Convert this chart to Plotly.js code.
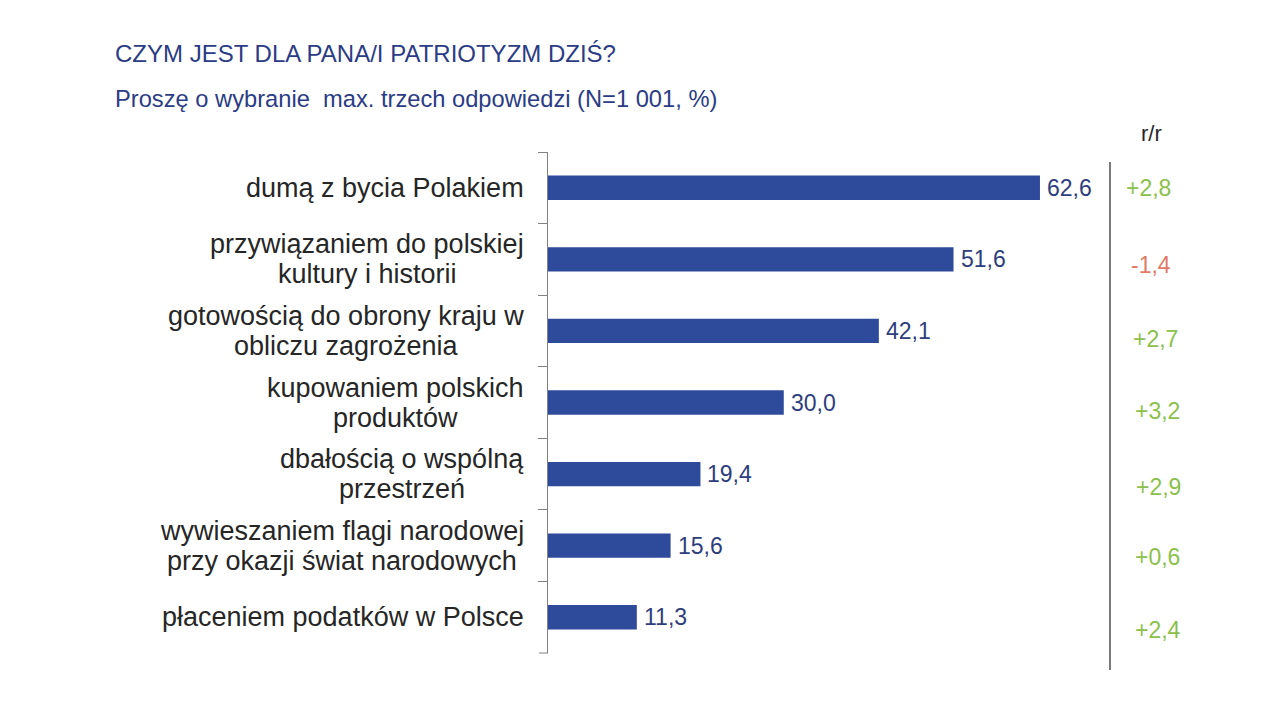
<!DOCTYPE html>
<html>
<head>
<meta charset="utf-8">
<script src="https://cdn.plot.ly/plotly-3.0.1.min.js"></script>
<style>html,body{margin:0;padding:0;background:#fff;}#chart{width:1280px;height:720px;}</style>
</head>
<body>
<div id="chart"></div>
<script>
// ---- data ----
const categories = [
  "dumą z bycia Polakiem",
  "przywiązaniem do polskiej<br>kultury i historii",
  "gotowością do obrony kraju w<br>obliczu zagrożenia",
  "kupowaniem polskich<br>produktów",
  "dbałością o wspólną<br>przestrzeń",
  "wywieszaniem flagi narodowej<br>przy okazji świat narodowych",
  "płaceniem podatków w Polsce"
];
const values = [62.6, 51.6, 42.1, 30.0, 19.4, 15.6, 11.3];
const changeLabels = ["+2,8", "-1,4", "+2,7", "+3,2", "+2,9", "+0,6", "+2,4"];
const titleText = "CZYM JEST DLA PANA/I PATRIOTYZM DZIŚ?";
const subtitleText = "Proszę o wybranie  max. trzech odpowiedzi (N=1 001, %)";
const rrHeader = "r/r";

// ---- layout constants (pixels) ----
const L = 548, R = 180, T = 152, B = 67;
const W = 1280 - L - R, H = 720 - T - B;
const px2x = p => (p - L) / W;
const py2y = p => (720 - B - p) / H;
const FONT = "'Liberation Sans', Arial, sans-serif";
const catFontSize = 27;
const rrX = [1148, 1151, 1155, 1157, 1158, 1157, 1158];
const rrShift = [0, -6, -8, -8, -13, -11, -13];

const ids = categories.map((c, i) => "c" + i);

const ctx = document.createElement("canvas").getContext("2d");
ctx.font = catFontSize + "px 'Liberation Sans'";

const annotations = [];
// category labels: lines centered on each other, block right-aligned
categories.forEach((c, i) => {
  const lines = c.split("<br>");
  const maxW = Math.max(...lines.map(l => ctx.measureText(l).width));
  const n = lines.length;
  lines.forEach((line, k) => {
    annotations.push({
      xref: "paper", yref: "y", x: 0, y: ids[i],
      xanchor: "center", yanchor: "middle",
      xshift: -24 - maxW / 2,
      yshift: -((k - (n - 1) / 2) * 30),
      text: line, showarrow: false,
      font: {family: FONT, size: catFontSize, color: "#262626"}
    });
  });
});
// value labels
values.forEach((v, i) => {
  annotations.push({
    xref: "x", yref: "y", x: v, y: ids[i],
    xanchor: "left", yanchor: "middle", xshift: 5,
    text: v.toFixed(1).replace(".", ","), showarrow: false,
    font: {family: FONT, size: 23, color: "#2E3D7C"}
  });
});
// r/r values
changeLabels.forEach((t, i) => {
  annotations.push({
    xref: "paper", yref: "y", x: px2x(rrX[i]), y: ids[i],
    xanchor: "center", yanchor: "middle", yshift: rrShift[i],
    text: t, showarrow: false,
    font: {family: FONT, size: 23, color: t.startsWith("-") ? "#E27A66" : "#8CBF4B"}
  });
});
// header and titles
annotations.push({
  xref: "paper", yref: "paper", x: px2x(1151), y: py2y(133),
  xanchor: "center", yanchor: "middle", text: rrHeader, showarrow: false,
  font: {family: FONT, size: 22, color: "#262626"}
});
annotations.push({
  xref: "paper", yref: "paper", x: px2x(113), y: py2y(54),
  xanchor: "left", yanchor: "middle", text: titleText, showarrow: false,
  font: {family: FONT, size: 24, color: "#2B3C85"}
});
annotations.push({
  xref: "paper", yref: "paper", x: px2x(113), y: py2y(99),
  xanchor: "left", yanchor: "middle", text: subtitleText, showarrow: false,
  font: {family: FONT, size: 23.7, color: "#2B3C85"}
});

const trace = {
  type: "bar", orientation: "h",
  x: values, y: ids,
  width: 0.34,
  marker: {color: "#2E4A9B"},
  hoverinfo: "skip"
};

const layout = {
  width: 1280, height: 720,
  margin: {l: L, r: R, t: T, b: B, pad: 0},
  paper_bgcolor: "#ffffff", plot_bgcolor: "#ffffff",
  showlegend: false,
  font: {family: FONT},
  xaxis: {range: [0, W / 7.859], visible: false, fixedrange: true},
  yaxis: {
    type: "category", autorange: "reversed",
    showticklabels: false, tickson: "boundaries",
    ticks: "outside", ticklen: 9, tickcolor: "#808080", tickwidth: 1,
    showline: true, linecolor: "#808080", linewidth: 1,
    showgrid: false, zeroline: false
  },
  shapes: [{
    type: "line", xref: "paper", yref: "paper",
    x0: px2x(1110), x1: px2x(1110), y0: py2y(162), y1: py2y(670),
    line: {color: "#333333", width: 1.3}
  }, {
    type: "line", xref: "paper", yref: "paper",
    x0: px2x(539), x1: 0, y0: 0, y1: 0,
    line: {color: "#808080", width: 1}
  }],
  annotations: annotations
};

Plotly.newPlot("chart", [trace], layout, {displayModeBar: false, staticPlot: true});
</script>
</body>
</html>
